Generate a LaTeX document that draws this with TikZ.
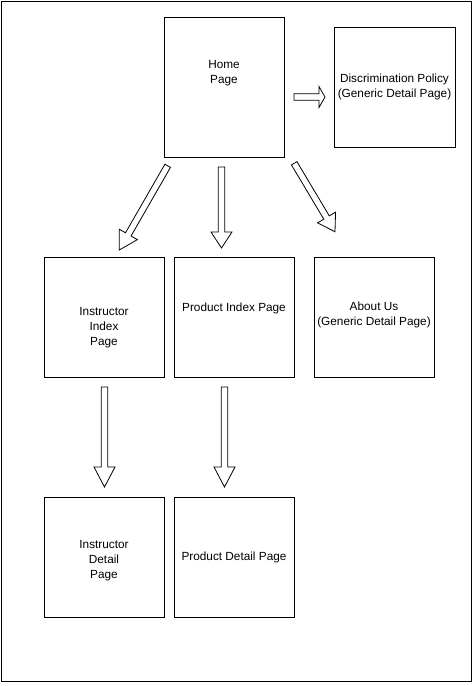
\documentclass[tikz,border=0pt]{standalone}
\usepackage{fontspec}
\setmainfont{Liberation Sans}
\usepackage{tikz}
\usetikzlibrary{calc}
\tikzset{
  pagebox/.style={draw=black,line width=1pt,minimum width=120pt,minimum height=120pt,
    inner sep=0pt,outer sep=0pt},
  pagetext/.style={font=\fontsize{11.8}{15}\selectfont,align=center,inner sep=0pt},
  blockarrow/.style={draw=black,line width=0.8pt,fill=white,line join=miter}
}
% hollow block arrow from #2 to #3, head length #1
\newcommand{\pagearrow}[3][17]{%
  \coordinate (#2-h) at ($(#3)!#1pt!(#2)$);
  \draw[blockarrow] ($(#2)!3.2pt!90:(#3)$) -- ($(#2-h)!3.2pt!90:(#3)$)
    -- ($(#2-h)!10.5pt!90:(#3)$) -- (#3) -- ($(#2-h)!10.5pt!-90:(#3)$)
    -- ($(#2-h)!3.2pt!-90:(#3)$) -- ($(#2)!3.2pt!-90:(#3)$) -- cycle;
}

\begin{document}
\begin{tikzpicture}[x=1pt,y=-1pt]
  \useasboundingbox (0,0) rectangle (473,686);
  \draw[line width=1pt] (1,1) rectangle (471,681);

  \node[pagebox,minimum height=140pt,
    label={[pagetext,yshift=14pt]center:Home\\Page}] (home) at (224,87) {};
  \node[pagebox,minimum width=121pt,
    label={[pagetext,yshift=1pt]center:Discrimination Policy\\(Generic Detail Page)}]
    (policy) at (394.5,87.5) {};

  \node[pagebox,label={[pagetext,yshift=-11pt]center:Instructor\\Index\\Page}]
    (instrindex) at (104,317) {};
  \node[pagebox,label={[pagetext,yshift=9pt]center:Product Index Page}]
    (prodindex) at (234,317) {};
  \node[pagebox,label={[pagetext,yshift=2.5pt]center:About Us\\(Generic Detail Page)}]
    (about) at (374,317) {};

  \node[pagebox,label={[pagetext,yshift=-4pt]center:Instructor\\Detail\\Page}]
    (instrdetail) at (104,557) {};
  \node[pagebox,label={[pagetext]center:Product Detail Page}]
    (proddetail) at (234,557) {};

  % arrow ends
  \coordinate (policyfrom) at (294,97);
  \coordinate (policyto) at (325,97);
  \coordinate (instrfrom) at (167.7,165.8);
  \coordinate (instrto) at (119.3,250);
  \coordinate (prodfrom) at (221.5,167);
  \coordinate (prodto) at (221.5,248);
  \coordinate (aboutfrom) at (294.2,163.3);
  \coordinate (aboutto) at (335,231.7);
  \coordinate (instrdetfrom) at (104.5,387);
  \coordinate (instrdetto) at (104.5,487);
  \coordinate (proddetfrom) at (224.5,387);
  \coordinate (proddetto) at (224.5,487);

  \pagearrow[6]{policyfrom}{policyto}
  \pagearrow[18]{instrfrom}{instrto}
  \pagearrow[16]{prodfrom}{prodto}
  \pagearrow[16.5]{aboutfrom}{aboutto}
  \pagearrow[20]{instrdetfrom}{instrdetto}
  \pagearrow[20]{proddetfrom}{proddetto}
\end{tikzpicture}
\end{document}
